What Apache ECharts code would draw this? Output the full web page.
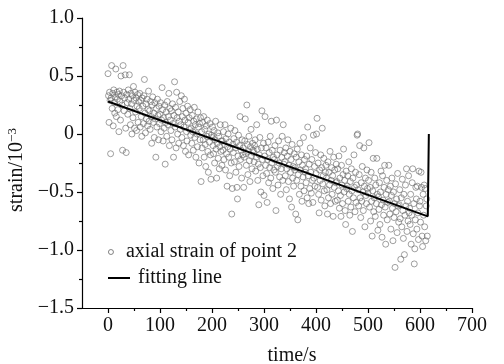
<!DOCTYPE html>
<html>
<head>
<meta charset="utf-8">
<script src="https://cdn.jsdelivr.net/npm/echarts@6/dist/echarts.min.js"></script>
<style>html,body{margin:0;padding:0;background:#fff}#c{width:504px;height:364px}</style>
</head>
<body>
<div id="c"></div>
<script>
// sampling: one reading per second starting at t = 0 s
const timeStep = 1;
const strainValues = [
0.52,0.33,0.10,0.36,0.29,-0.17,0.31,0.59,0.22,0.35,0.07,0.38,0.27,0.18,0.32,0.56,0.15,0.36,0.30,0.21,
0.34,0.02,0.37,0.28,0.12,0.50,0.33,0.25,-0.14,0.59,0.36,0.20,0.31,0.51,0.05,-0.16,0.34,0.27,0.17,0.38,
0.30,0.51,0.22,0.08,0.35,0.26,0.00,0.33,0.14,0.41,0.29,0.05,0.36,0.19,0.31,0.03,0.24,0.34,0.10,0.28,
0.22,0.35,0.06,0.29,0.15,-0.02,0.31,0.24,0.09,0.33,0.47,0.18,0.01,0.26,0.13,0.30,0.07,0.21,0.37,0.11,
0.20,0.04,0.28,0.15,-0.08,0.25,0.32,0.10,0.18,-0.03,0.27,0.13,-0.20,0.22,0.06,0.30,0.16,-0.05,0.24,0.09,
0.17,0.27,0.02,0.12,0.40,0.21,-0.06,0.14,0.05,0.25,-0.26,0.10,0.19,-0.02,0.28,0.08,0.15,0.35,-0.10,0.22,
0.12,0.03,0.20,-0.05,0.26,0.09,-0.20,0.16,0.45,0.06,0.23,-0.12,0.36,0.14,0.00,0.19,-0.08,0.11,0.28,0.04,
0.08,0.33,-0.03,0.15,0.22,-0.10,0.06,0.30,0.12,-0.15,0.18,0.02,-0.06,0.24,0.10,-0.18,0.14,0.04,0.21,-0.01,
0.05,-0.08,0.16,0.02,-0.14,0.11,0.23,-0.03,0.08,-0.20,0.13,0.00,-0.11,0.19,0.06,-0.25,0.09,-0.05,0.14,-0.41,
0.02,-0.12,0.10,-0.05,0.15,-0.20,0.04,-0.09,-0.28,0.07,-0.02,0.12,-0.15,-0.33,0.00,-0.07,0.09,-0.18,-0.39,-0.01,
-0.03,0.06,-0.10,-0.17,0.03,-0.25,-0.05,0.11,-0.13,-0.38,-0.08,0.01,-0.21,-0.02,-0.30,-0.11,0.08,-0.15,-0.06,-0.27,
-0.06,-0.14,0.02,-0.22,-0.09,0.08,-0.31,-0.04,-0.17,-0.45,-0.11,0.00,-0.20,-0.07,-0.36,-0.13,0.05,-0.25,-0.69,-0.47,
-0.09,-0.16,-0.04,-0.24,0.03,-0.12,-0.33,-0.07,-0.46,-0.56,-0.19,-0.01,-0.28,-0.10,0.15,-0.22,-0.14,-0.38,-0.05,-0.18,
-0.12,-0.46,-0.20,-0.06,0.13,-0.17,-0.27,0.25,-0.09,-0.35,-0.15,-0.02,-0.23,-0.41,-0.11,0.04,-0.19,-0.30,-0.08,-0.14,
-0.16,-0.24,-0.10,-0.05,-0.32,-0.20,0.08,-0.13,-0.40,-0.26,-0.61,-0.18,-0.03,-0.29,-0.50,-0.12,0.20,-0.22,-0.36,-0.08,
-0.53,-0.19,0.15,-0.27,-0.12,-0.34,-0.59,-0.22,-0.07,-0.42,-0.16,-0.29,-0.02,-0.38,0.11,-0.25,-0.14,-0.47,-0.20,-0.31,
-0.22,-0.10,-0.33,-0.66,0.12,-0.18,-0.28,-0.44,-0.06,-0.25,-0.37,-0.14,-0.52,-0.30,-0.20,-0.02,-0.40,0.08,-0.26,-0.16,
-0.24,-0.36,-0.12,-0.48,-0.30,-0.19,-0.05,-0.41,-0.27,-0.56,-0.15,-0.33,-0.22,-0.63,-0.09,-0.38,-0.28,-0.45,-0.17,-0.31,
-0.29,-0.69,-0.20,-0.40,-0.13,-0.74,-0.35,-0.24,-0.52,-0.08,-0.31,-0.45,-0.18,-0.58,-0.27,-0.37,-0.03,-0.49,-0.22,-0.33,
-0.30,-0.42,-0.19,-0.55,0.06,-0.36,-0.60,-0.26,-0.47,-0.12,-0.33,-0.51,-0.22,-0.40,-0.59,-0.01,-0.38,-0.28,-0.45,-0.16,
-0.34,0.00,0.135,-0.46,-0.25,-0.52,-0.68,-0.31,-0.40,-0.18,-0.57,-0.29,0.05,-0.43,-0.36,-0.21,-0.49,-0.62,-0.33,-0.27,
-0.38,-0.48,-0.69,-0.24,-0.55,-0.33,-0.44,-0.15,-0.60,-0.40,-0.29,-0.52,-0.36,-0.71,-0.20,-0.46,-0.31,-0.58,-0.42,-0.26,
-0.41,-0.57,-0.30,-0.49,-0.19,-0.64,-0.38,-0.53,-0.71,-0.27,-0.44,-0.60,-0.35,-0.13,-0.50,-0.40,-0.66,-0.78,-0.32,-0.47,
-0.45,-0.36,-0.58,-0.24,-0.52,-0.70,-0.41,-0.63,-0.30,-0.49,-0.84,-0.38,-0.55,-0.18,-0.46,-0.67,-0.33,-0.59,-0.44,-0.01,
0.00,-0.48,-0.62,-0.35,-0.10,-0.55,-0.72,-0.42,-0.58,-0.28,-0.50,-0.66,-0.12,-0.45,-0.80,-0.38,-0.53,-0.60,-0.31,-0.47,
-0.51,-0.40,-0.075,-0.63,-0.46,-0.75,-0.33,-0.58,-0.88,-0.49,-0.21,-0.67,-0.55,-0.38,-0.71,-0.44,-0.60,-0.21,-0.52,-0.83,
-0.54,-0.65,-0.42,-0.78,-0.50,-0.32,-0.61,-0.89,-0.36,-0.57,-0.70,-0.46,-0.27,-0.63,-0.95,-0.52,-0.40,-0.74,-0.59,-0.48,
-0.27,-0.58,-0.69,-0.45,-0.82,-0.53,-0.38,-0.64,-0.92,-0.50,-0.72,-0.60,-1.15,-0.43,-0.67,-0.56,-0.85,-0.34,-0.62,-0.76,
-0.61,-0.48,-0.73,-1.08,-0.55,-0.80,-0.39,-0.66,-0.90,-0.52,-1.04,-0.70,-0.44,-0.62,-0.30,-0.84,-0.58,-0.75,-0.36,-0.68,
-0.64,-0.78,-0.52,-0.95,-0.70,-0.42,-0.30,-0.86,-0.60,-1.12,-0.99,-0.74,-0.46,-0.56,-0.82,-0.45,-0.68,-0.91,-0.32,-0.62,
-0.58,-0.76,-0.33,-0.46,-0.88,-0.97,-0.52,-0.70,-0.44,-0.80,-0.47,-0.92,-0.62,-0.56,-0.88
];
const fitTimes = [0, 615, 617];
const fitValues = [0.28, -0.71, 0.0];
const xTickLabels = [0, 100, 200, 300, 400, 500, 600, 700];
const xMinorTicks = [50, 150, 250, 350, 450, 550, 650];
const seriesNames = ['axial strain of point 2', 'fitting line'];

const FONT = "'Liberation Serif','Times New Roman',serif";
const scatterData = strainValues.map((v, i) => [i * timeStep, v]);
const fitData = fitTimes.map((t, i) => [t, fitValues[i]]);
const fmtY = v => v === 0 ? '0' : (v < 0 ? '\u2212' + Math.abs(v).toFixed(1) : v.toFixed(1));

const chart = echarts.init(document.getElementById('c'), null, {renderer: 'canvas'});
chart.setOption({
  animation: false,
  backgroundColor: '#fff',
  textStyle: {fontFamily: FONT},
  grid: {left: 82, right: 32, top: 18, bottom: 56, containLabel: false, outerBoundsMode: 'none'},
  legend: [
    {data: [seriesNames[0]], left: 103, top: 237, itemWidth: 20, itemHeight: 5, orient: 'vertical',
     itemStyle: {color: '#fff', borderColor: '#555', borderWidth: 0.9},
     textStyle: {fontFamily: FONT, fontSize: 20, color: '#111', lineHeight: 20}},
    {data: [{name: seriesNames[1], icon: 'rect'}], left: 103, top: 263, itemWidth: 22, itemHeight: 2, orient: 'vertical',
     itemStyle: {color: '#000', borderWidth: 0},
     textStyle: {fontFamily: FONT, fontSize: 20, color: '#111', lineHeight: 20, padding: [0,0,0,3]}}
  ],
  xAxis: [
    {type: 'value', min: -50, max: 700, position: 'bottom',
     name: 'time/s', nameLocation: 'middle', nameGap: 38,
     nameTextStyle: {fontFamily: FONT, fontSize: 20, color: '#111', padding: [0,0,0,30]},
     axisLine: {show: true, onZero: false, lineStyle: {color: '#000', width: 1.2}},
     axisTick: {show: true, inside: false, length: 5, customValues: xTickLabels, lineStyle: {color: '#000', width: 1.2}},
     axisLabel: {show: true, customValues: xTickLabels, margin: 8, fontFamily: FONT, fontSize: 20, color: '#111'},
     splitLine: {show: false}},
    {type: 'value', min: -50, max: 700, position: 'bottom', gridIndex: 0,
     axisLine: {show: false, onZero: false},
     axisTick: {show: true, inside: false, length: 3, customValues: xMinorTicks, lineStyle: {color: '#000', width: 1.2}},
     axisLabel: {show: false},
     splitLine: {show: false}}
  ],
  yAxis: {
    type: 'value', min: -1.5, max: 1.0, interval: 0.5,
    name: 'strain/10{sup|\u22123}', nameLocation: 'middle', nameGap: 52,
    nameTextStyle: {fontFamily: FONT, fontSize: 20, color: '#111', padding: [0,14,0,0],
      rich: {sup: {fontFamily: FONT, fontSize: 13, color: '#111', verticalAlign: 'top', padding: [0,0,8,0]}}},
    axisLine: {show: true, onZero: false, lineStyle: {color: '#000', width: 1.2}},
    axisTick: {show: true, inside: false, length: 5, lineStyle: {color: '#000', width: 1.2}},
    minorTick: {show: true, splitNumber: 2, length: 3, lineStyle: {color: '#000', width: 1.2}},
    axisLabel: {formatter: fmtY, margin: 8, fontFamily: FONT, fontSize: 20, color: '#111'},
    splitLine: {show: false}
  },
  series: [
    {name: seriesNames[0], type: 'scatter', data: scatterData, symbol: 'circle', symbolSize: 6,
     itemStyle: {color: 'rgba(255,255,255,0)', borderColor: '#6a6a6a', borderWidth: 0.8}},
    {name: seriesNames[1], type: 'line', data: fitData, symbol: 'none', z: 5,
     lineStyle: {color: '#000', width: 2}, itemStyle: {color: '#000'}}
  ]
});
</script>
</body>
</html>
